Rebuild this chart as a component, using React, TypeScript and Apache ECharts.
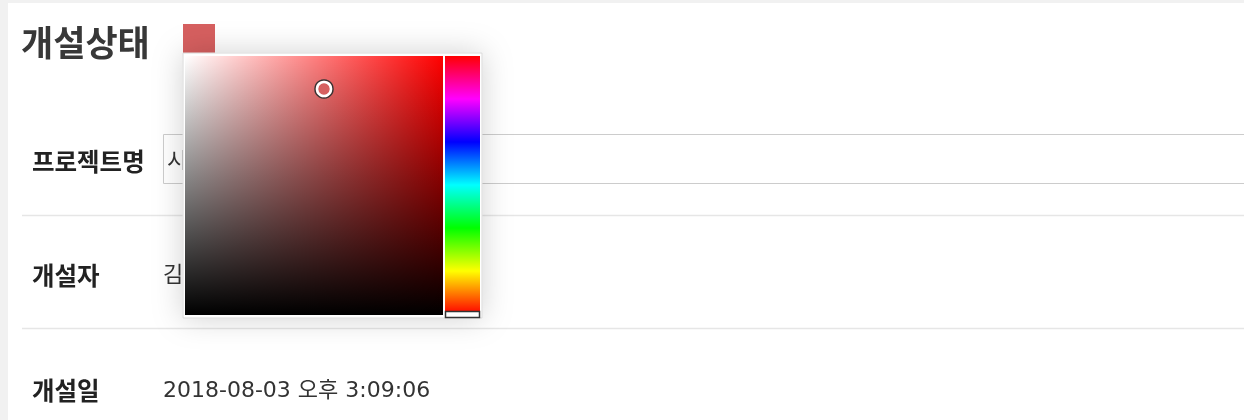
import React, { useEffect, useRef } from "react";
import * as echarts from "echarts";

const titleText = "개설상태";
const fieldLabels = ["프로젝트명", "개설자", "개설일"];
const fieldValues = ["시스템 개발", "김민수", "2018-08-03 오후 3:09:06"];
const selectedColor = "#d65f5f";
const pickerHue = "#ff0000";
const hueStops = ["#ff0000", "#ff00ff", "#0000ff", "#00ffff", "#00ff00", "#ffff00", "#ff0000"];

const FONT = "'Noto Sans CJK KR', 'Noto Sans', sans-serif";
const VFONT = "'DejaVu Sans', 'Noto Sans CJK KR', sans-serif";

export default function App() {
  const ref = useRef<HTMLDivElement>(null);
  useEffect(() => {
    const chart = echarts.init(ref.current!, null, { renderer: "svg" });
    const rowY = [160, 274, 389];
    const graphic: any[] = [];
    // background
    graphic.push({ type: "rect", shape: { x: 0, y: 0, width: 1244, height: 420 }, style: { fill: "#f1f1f1" } });
    graphic.push({ type: "rect", shape: { x: 8, y: 3, width: 1236, height: 417 }, style: { fill: "#ffffff" } });
    // title
    graphic.push({ type: "text", x: 21, y: 40, style: { text: titleText, font: `bold 35px ${FONT}`, fill: "#383838", verticalAlign: "middle" } });
    // separators
    graphic.push({ type: "line", shape: { x1: 22, y1: 215.5, x2: 1244, y2: 215.5 }, style: { stroke: "#e6e6e6", lineWidth: 1.5 } });
    graphic.push({ type: "line", shape: { x1: 22, y1: 328.5, x2: 1244, y2: 328.5 }, style: { stroke: "#e6e6e6", lineWidth: 1.5 } });
    // input box
    graphic.push({ type: "rect", shape: { x: 163.5, y: 134.5, width: 1090, height: 49 }, style: { fill: "#ffffff", stroke: "#cccccc", lineWidth: 1 } });
    // labels & values
    fieldLabels.forEach((lab, i) => {
      graphic.push({ type: "text", x: 32, y: rowY[i], style: { text: lab, font: `bold 24.5px ${FONT}`, fill: "#222222", verticalAlign: "middle" } });
      graphic.push({ type: "text", x: i === 0 ? 167 : 163, y: rowY[i], style: { text: fieldValues[i], font: `22px ${VFONT}`, fill: "#333333", verticalAlign: "middle" } });
    });
    // swatch
    graphic.push({ type: "rect", shape: { x: 183, y: 24, width: 32, height: 29 }, style: { fill: selectedColor } });
    // picker container
    graphic.push({ type: "rect", shape: { x: 183, y: 53, width: 299, height: 265 }, style: { fill: "#ffffff", stroke: "#d8d8d8", lineWidth: 1, shadowBlur: 30, shadowColor: "rgba(0,0,0,0.18)", shadowOffsetX: 0, shadowOffsetY: 0 } });
    // saturation area
    graphic.push({ type: "rect", shape: { x: 185, y: 56, width: 258, height: 259 }, style: {
      fill: new echarts.graphic.LinearGradient(0, 0, 1, 0, [
        { offset: 0, color: "#ffffff" },
        { offset: 1, color: pickerHue },
      ]) } });
    graphic.push({ type: "rect", shape: { x: 185, y: 56, width: 258, height: 259 }, style: {
      fill: new echarts.graphic.LinearGradient(0, 0, 0, 1, [
        { offset: 0, color: "rgba(0,0,0,0)" },
        { offset: 1, color: "rgba(0,0,0,1)" },
      ]) } });
    // hue bar
    graphic.push({ type: "rect", shape: { x: 445, y: 56, width: 35, height: 258 }, style: {
      fill: new echarts.graphic.LinearGradient(0, 0, 0, 1, hueStops.map((c, i) => ({ offset: i / (hueStops.length - 1), color: c }))) } });
    // hue slider
    graphic.push({ type: "rect", shape: { x: 445.5, y: 311.5, width: 34, height: 6 }, style: { fill: "#ffffff", stroke: "#333333", lineWidth: 1.5 } });
    // cursor
    graphic.push({ type: "circle", shape: { cx: 324, cy: 89, r: 9 }, style: { fill: "none", stroke: "#333333", lineWidth: 1.5 } });
    graphic.push({ type: "circle", shape: { cx: 324, cy: 89, r: 7 }, style: { fill: selectedColor, stroke: "#ffffff", lineWidth: 2.5 } });

    chart.setOption({ animation: false, graphic });
    return () => chart.dispose();
  }, []);
  return <div ref={ref} style={{ position: "fixed", left: 0, top: 0, width: 1244, height: 420 }} />;
}
